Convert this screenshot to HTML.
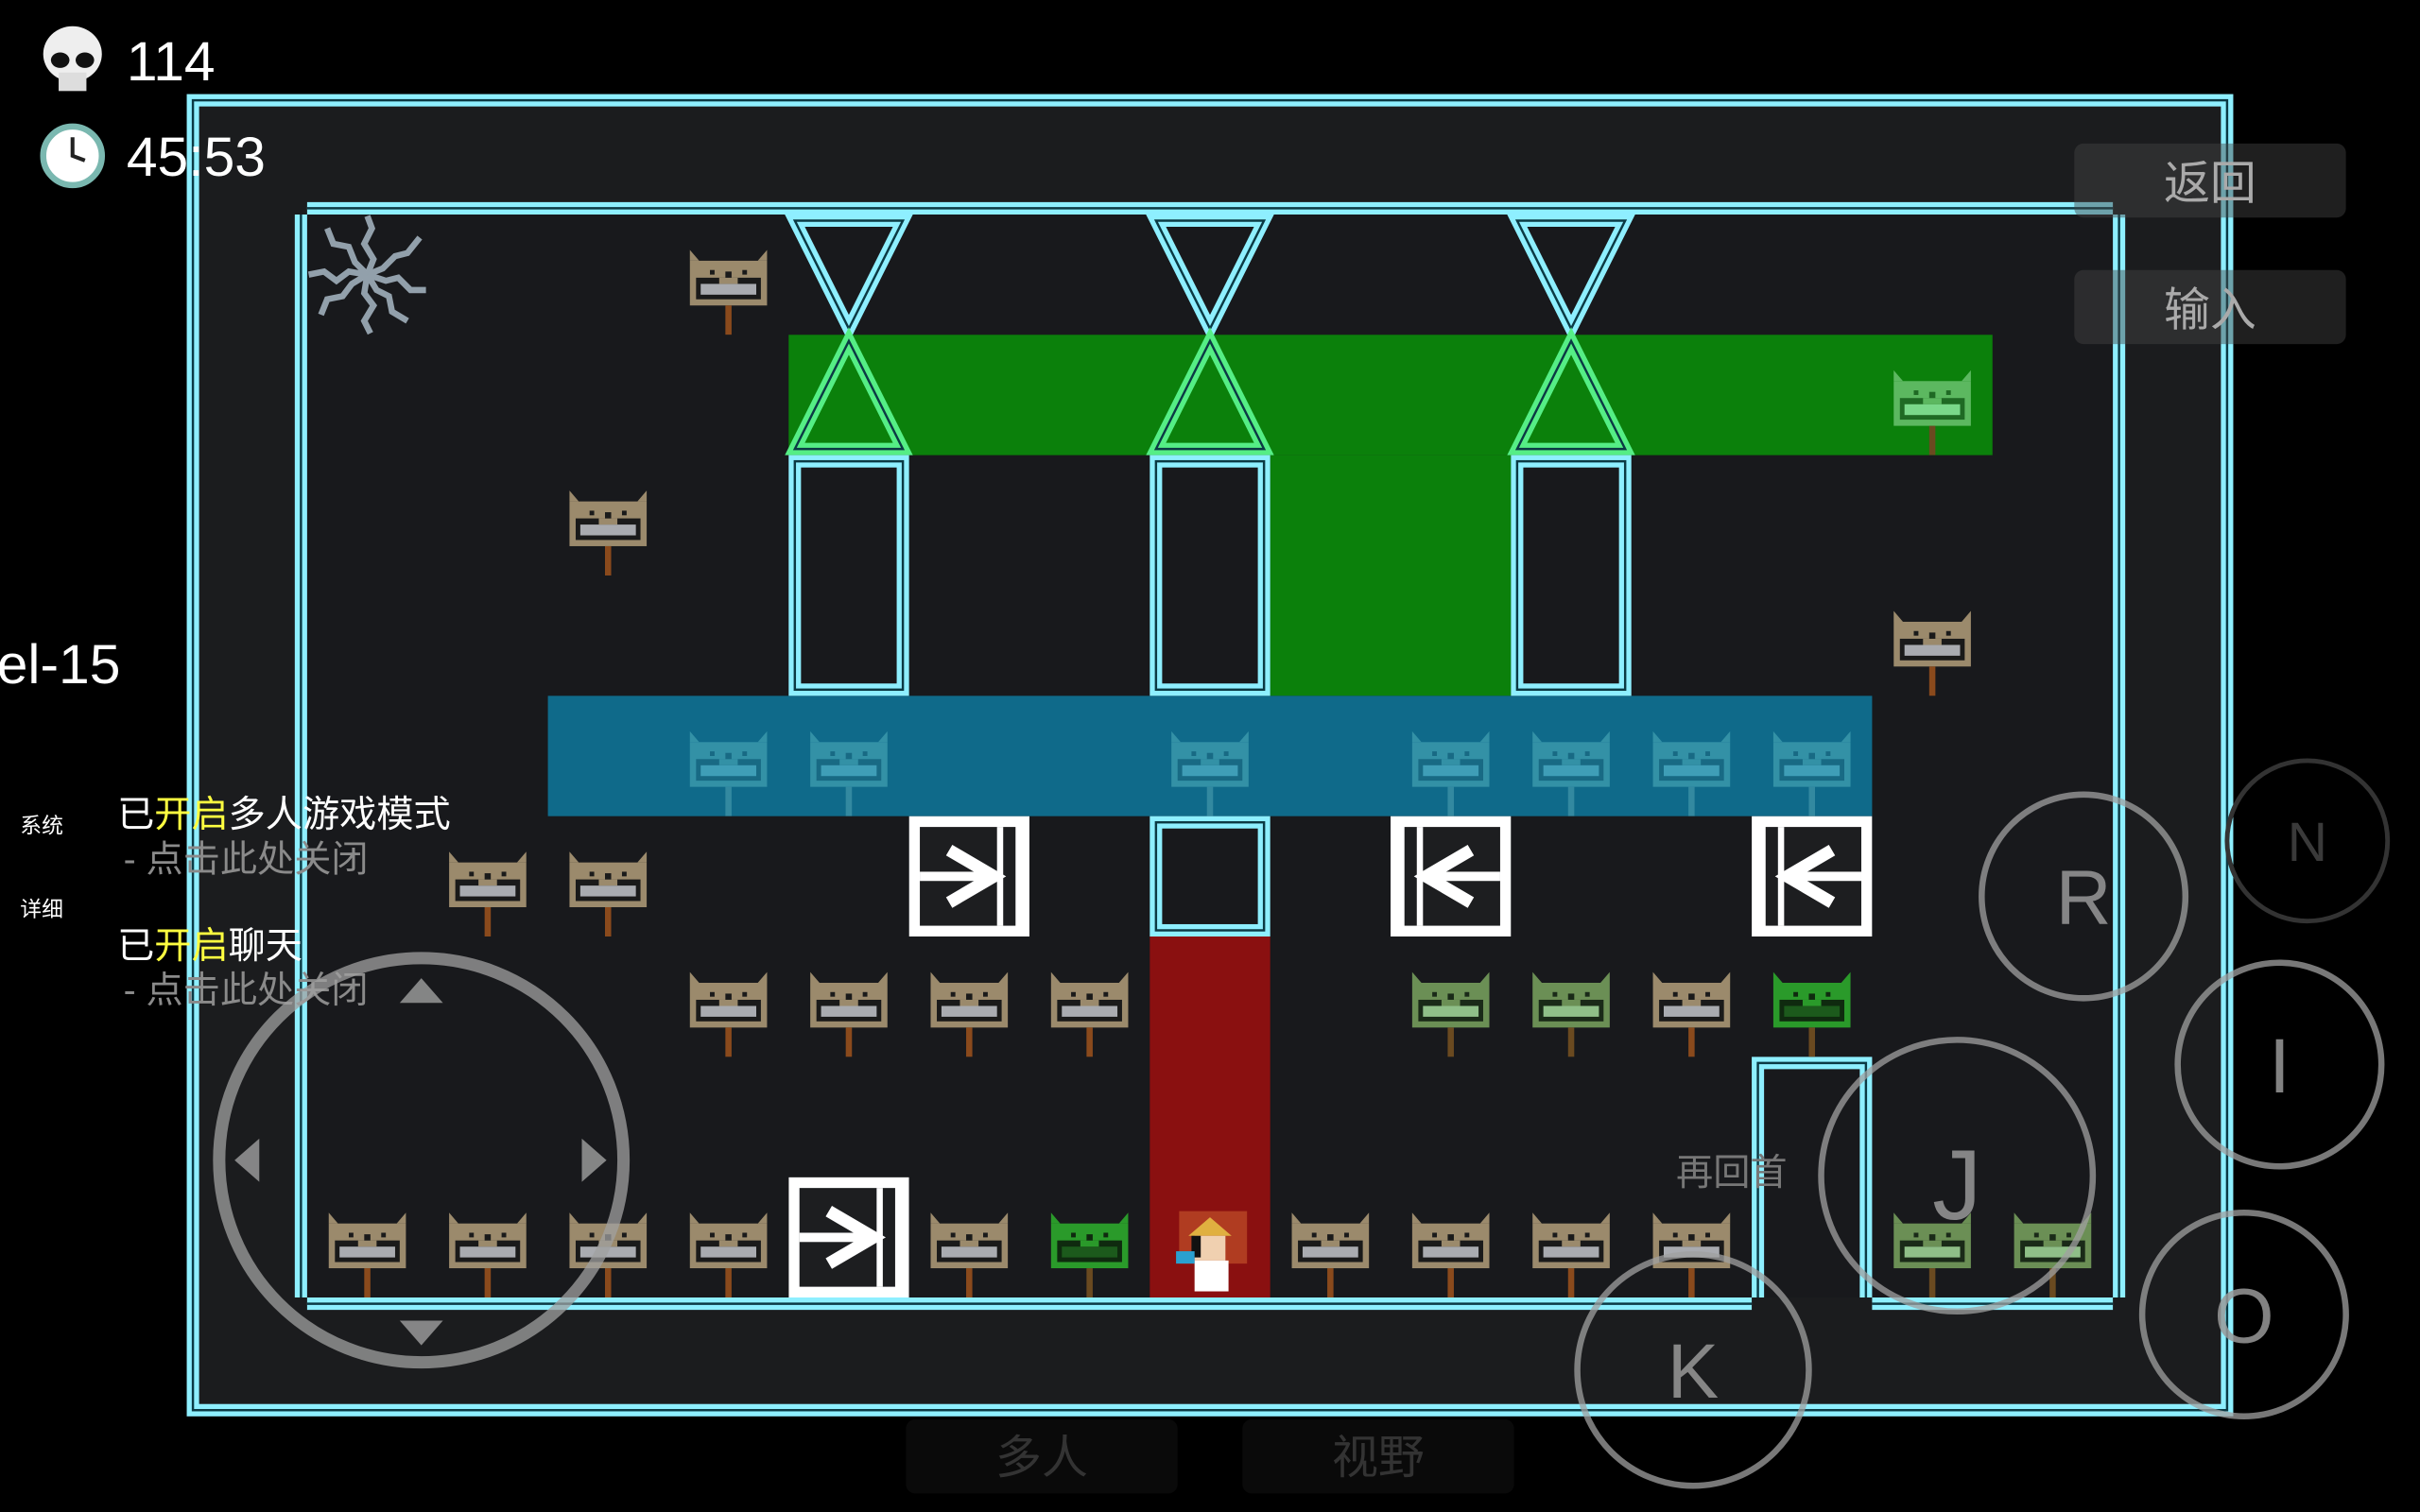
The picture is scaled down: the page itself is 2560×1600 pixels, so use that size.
<!DOCTYPE html>
<html><head><meta charset="utf-8"><style>
html,body{margin:0;padding:0;background:#000;width:2560px;height:1600px;overflow:hidden}
svg{display:block}
text{font-family:"Liberation Sans","Noto Sans CJK SC",sans-serif}
</style></head><body>
<svg width="2560" height="1600" viewBox="0 0 1568 980" xmlns="http://www.w3.org/2000/svg">
<defs>
<symbol id="sg" viewBox="0 0 78 78">
<polygon points="14,23 20,30 14,30" style="fill:var(--h)"/>
<polygon points="64,23 64,30 58,30" style="fill:var(--h)"/>
<rect x="14" y="30" width="50" height="29" style="fill:var(--h)"/>
<rect x="18" y="41" width="42" height="14" style="fill:var(--d)"/>
<rect x="21" y="45" width="36" height="7" style="fill:var(--m)"/>
<rect x="33" y="41" width="12" height="4" style="fill:var(--h)"/>
<rect x="27" y="36" width="3" height="3" style="fill:var(--d)"/>
<rect x="48" y="36" width="3" height="3" style="fill:var(--d)"/>
<rect x="37" y="37" width="4" height="4" style="fill:var(--d)"/>
<rect x="37" y="59" width="4" height="19" style="fill:var(--s)"/>
</symbol>
<symbol id="ar" viewBox="0 0 78 78">
<rect width="78" height="78" fill="#fff"/>
<rect x="7" y="7" width="62" height="64" fill="#1d1e20"/>
<rect x="57" y="7" width="4" height="64" fill="#fff"/>
<rect x="7" y="36" width="50" height="6" fill="#fff"/>
<polyline points="26,22 55,39 26,56" fill="none" stroke="#fff" stroke-width="8" stroke-linejoin="miter"/>
</symbol>
<g id="cb"><rect x="4" y="4" width="70" height="148" fill="none" stroke="#8eefff" stroke-width="8"/><rect x="4" y="4" width="70" height="148" fill="none" stroke="#0b3a44" stroke-width="1.5"/></g>
</defs>
<style>
.b{--h:#9b8a6c;--m:#a9abb0;--d:#1a1a1a;--s:#8a4a1c}
.g{--h:#6b8f55;--m:#8fbf88;--d:#1a2a18;--s:#6a4a20}
.G{--h:#2a9a2a;--m:#1c5a1c;--d:#0f2a0f;--s:#6a4a20}
.w{--h:#3a98ac;--m:#48a8c0;--d:#1a6a84;--s:#3a8fa5}
.cy{fill:none;stroke:#8eefff;stroke-width:8}
.cd{fill:none;stroke:#0b3a44;stroke-width:1.5}
</style>
<rect width="1568" height="980" fill="#000"/>
<rect x="121" y="61" width="1326" height="857" fill="#1b1c1e"/>
<rect x="199" y="139" width="1170" height="702" fill="#18191c"/>
<rect x="511" y="217" width="780" height="78" fill="#0b800b"/>
<rect x="823" y="295" width="156" height="156" fill="#0b800b"/>
<rect x="355" y="451" width="858" height="78" fill="#0f6a8a"/>
<rect x="745" y="607" width="78" height="234" fill="#8a1010"/>
<rect x="125" y="65" width="1318" height="849" class="cy"/><rect x="125" y="65" width="1318" height="849" class="cd"/>
<g>
<polyline points="199,135 1369,135" class="cy"/><polyline points="199,135 1369,135" class="cd"/>
<polyline points="195,139 195,841" class="cy"/><polyline points="195,139 195,841" class="cd"/>
<polyline points="1373,139 1373,841" class="cy"/><polyline points="1373,139 1373,841" class="cd"/>
<polyline points="199,845 1135,845" class="cy"/><polyline points="199,845 1135,845" class="cd"/>
<polyline points="1213,845 1369,845" class="cy"/><polyline points="1213,845 1369,845" class="cd"/>
<polyline points="1139,841 1139,689 1209,689 1209,841" class="cy"/><polyline points="1139,841 1139,689 1209,689 1209,841" class="cd"/>
</g>
<g>
<polygon points="515,143 585,143 550,213" class="cy"/><polygon points="515,143 585,143 550,213" class="cd"/>
<polygon points="749,143 819,143 784,213" class="cy"/><polygon points="749,143 819,143 784,213" class="cd"/>
<polygon points="983,143 1053,143 1018,213" class="cy"/><polygon points="983,143 1053,143 1018,213" class="cd"/>
<g style="stroke:#55ee85">
<polygon points="515,291 585,291 550,221" fill="none" stroke-width="8"/>
<polygon points="749,291 819,291 784,221" fill="none" stroke-width="8"/>
<polygon points="983,291 1053,291 1018,221" fill="none" stroke-width="8"/>
</g>
<polygon points="515,291 585,291 550,221" class="cd"/>
<polygon points="749,291 819,291 784,221" class="cd"/>
<polygon points="983,291 1053,291 1018,221" class="cd"/>
</g>
<use href="#cb" x="511" y="295"/><use href="#cb" x="745" y="295"/><use href="#cb" x="979" y="295"/>
<rect x="749" y="533" width="70" height="70" class="cy"/><rect x="749" y="533" width="70" height="70" class="cd"/>
<use href="#ar" x="589" y="529" width="78" height="78"/>
<use href="#ar" x="511" y="763" width="78" height="78"/>
<g transform="translate(1880,0) scale(-1,1)"><use href="#ar" x="901" y="529" width="78" height="78"/></g>
<g transform="translate(2348,0) scale(-1,1)"><use href="#ar" x="1135" y="529" width="78" height="78"/></g>
<g class="b">
<use href="#sg" x="433" y="139" width="78" height="78"/>
<use href="#sg" x="355" y="295" width="78" height="78"/>
<use href="#sg" x="1213" y="373" width="78" height="78"/>
<use href="#sg" x="277" y="529" width="78" height="78"/><use href="#sg" x="355" y="529" width="78" height="78"/>
<use href="#sg" x="433" y="607" width="78" height="78"/><use href="#sg" x="511" y="607" width="78" height="78"/><use href="#sg" x="589" y="607" width="78" height="78"/><use href="#sg" x="667" y="607" width="78" height="78"/>
<use href="#sg" x="1057" y="607" width="78" height="78"/>
<use href="#sg" x="199" y="763" width="78" height="78"/><use href="#sg" x="277" y="763" width="78" height="78"/><use href="#sg" x="355" y="763" width="78" height="78"/><use href="#sg" x="433" y="763" width="78" height="78"/>
<use href="#sg" x="589" y="763" width="78" height="78"/>
<use href="#sg" x="823" y="763" width="78" height="78"/><use href="#sg" x="901" y="763" width="78" height="78"/><use href="#sg" x="979" y="763" width="78" height="78"/><use href="#sg" x="1057" y="763" width="78" height="78"/>
</g>
<g class="g">
<use href="#sg" x="1213" y="217" width="78" height="78" style="--h:#5cb860;--m:#7ad88a;--d:#1f6a24"/>
<use href="#sg" x="901" y="607" width="78" height="78"/><use href="#sg" x="979" y="607" width="78" height="78"/>
<use href="#sg" x="1213" y="763" width="78" height="78"/><use href="#sg" x="1291" y="763" width="78" height="78"/>
</g>
<g class="G">
<use href="#sg" x="1135" y="607" width="78" height="78"/>
<use href="#sg" x="667" y="763" width="78" height="78"/>
</g>
<g class="w" opacity="0.85">
<use href="#sg" x="433" y="451" width="78" height="78"/><use href="#sg" x="511" y="451" width="78" height="78"/><use href="#sg" x="745" y="451" width="78" height="78"/><use href="#sg" x="901" y="451" width="78" height="78"/><use href="#sg" x="979" y="451" width="78" height="78"/><use href="#sg" x="1057" y="451" width="78" height="78"/><use href="#sg" x="1135" y="451" width="78" height="78"/>
</g>
<g transform="translate(760,785)">
<rect x="4" y="0" width="44" height="34" fill="#c0502a" opacity="0.7"/>
<polygon points="10,16 24,4 38,16" fill="#e0b040"/>
<rect x="14" y="16" width="20" height="16" fill="#f0d0b0"/>
<rect x="12" y="16" width="6" height="14" fill="#111"/>
<rect x="14" y="32" width="22" height="20" fill="#fff"/>
<rect x="2" y="26" width="12" height="8" fill="#2aa0d0"/>
</g>
<g stroke="#a8b8c4" stroke-width="4" fill="none" transform="translate(238,178)" opacity="0.85">
<polyline points="0,0 4,-10 -2,-20 3,-30 0,-38"/><polyline points="0,0 10,-4 18,-12 26,-14 34,-24"/>
<polyline points="0,0 12,4 20,2 28,10 38,10"/><polyline points="0,0 6,10 14,14 16,24 26,30"/>
<polyline points="0,0 -2,12 4,20 -2,30 2,38"/><polyline points="0,0 -10,6 -16,14 -26,16 -30,26"/>
<polyline points="0,0 -12,-2 -20,4 -28,-2 -38,0"/><polyline points="0,0 -8,-8 -12,-18 -22,-20 -26,-30"/>
</g>
<g transform="translate(47,39)">
<ellipse cx="0" cy="-4" rx="19" ry="18" fill="#eee"/><rect x="-9" y="8" width="18" height="12" fill="#ddd"/>
<ellipse cx="-8" cy="0" rx="6" ry="5" fill="#111"/><ellipse cx="8" cy="0" rx="6" ry="5" fill="#111"/>
</g>
<text x="82" y="52" font-size="36" fill="#fff">114</text>
<circle cx="47" cy="101" r="19" fill="#fff" stroke="#7ab8b0" stroke-width="4"/>
<polyline points="47,89 47,101 55,104" fill="none" stroke="#222" stroke-width="2.5"/>
<text x="82" y="114" font-size="36" fill="#fff">45:53</text>
<text x="-2" y="443" font-size="36" fill="#fff">el-15</text>
<text x="13" y="540" font-size="14" fill="#fff">系统</text>
<text x="13" y="594" font-size="14" fill="#fff">详细</text>
<text x="76" y="536" font-size="24" fill="#fff">已<tspan fill="#ffff40">开启</tspan>多人游戏模式</text>
<text x="80" y="565" font-size="24" fill="#8a8a8a">- 点击此处关闭</text>
<text x="76" y="621" font-size="24" fill="#fff">已<tspan fill="#ffff40">开启</tspan>聊天</text>
<text x="80" y="650" font-size="24" fill="#8a8a8a">- 点击此处关闭</text>
<rect x="1344" y="93" width="176" height="48" rx="6" fill="#444" opacity="0.45"/>
<text x="1432" y="129" font-size="30" fill="#aaa" text-anchor="middle">返回</text>
<rect x="1344" y="175" width="176" height="48" rx="6" fill="#444" opacity="0.45"/>
<text x="1432" y="211" font-size="30" fill="#aaa" text-anchor="middle">输入</text>
<rect x="587" y="920" width="176" height="48" rx="6" fill="#111" opacity="0.6"/>
<text x="675" y="955" font-size="30" fill="#333" text-anchor="middle">多人</text>
<rect x="805" y="920" width="176" height="48" rx="6" fill="#111" opacity="0.6"/>
<text x="893" y="955" font-size="30" fill="#333" text-anchor="middle">视野</text>
<text x="1122" y="768" font-size="24" fill="#777" text-anchor="middle">再回首</text>
<g fill="none" stroke="#a0a0a0" stroke-opacity="0.75" stroke-width="4">
<circle cx="1350" cy="581" r="66"/>
<circle cx="1477" cy="690" r="66"/>
<circle cx="1268" cy="762" r="88"/>
<circle cx="1454" cy="852" r="66"/>
<circle cx="1097" cy="888" r="75"/>
<circle cx="273" cy="752" r="131" stroke-width="8"/>
</g>
<circle cx="1495" cy="545" r="52" fill="none" stroke="#333" stroke-width="3"/>
<g fill="#a0a0a0" fill-opacity="0.8">
<polygon points="273,634 259,650 287,650"/><polygon points="273,872 259,856 287,856"/>
<polygon points="152,752 168,738 168,766"/><polygon points="393,752 377,738 377,766"/>
</g>
<g font-size="50" fill="#999" fill-opacity="0.85" text-anchor="middle">
<text x="1350" y="599">R</text><text x="1477" y="708">I</text><text x="1268" y="790" font-size="64">J</text>
<text x="1454" y="870">O</text><text x="1097" y="906">K</text>
</g>
<text x="1495" y="558" font-size="36" fill="#3a3a3a" text-anchor="middle">N</text>
</svg>
</body></html>
